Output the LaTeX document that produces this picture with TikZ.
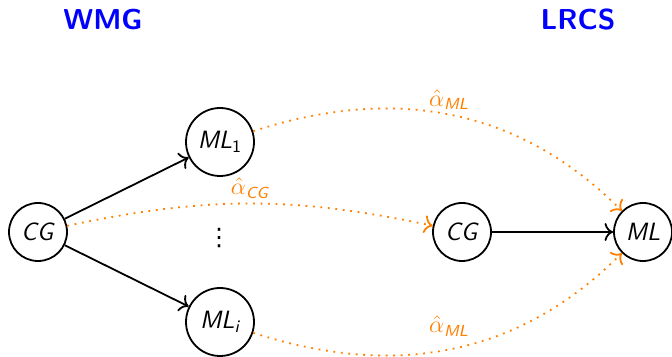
\documentclass[tikz,border=0pt]{standalone}
\usepackage{amsmath}
\usepackage{fontspec}
\usetikzlibrary{arrows.meta}
\renewcommand{\familydefault}{\sfdefault}
\newfontfamily\symfont{DejaVu Sans}
\newcommand{\sv}[1]{\textsf{\itshape #1}}
\definecolor{flow}{RGB}{255,128,0}
\definecolor{head}{RGB}{0,0,255}
\begin{document}
\begin{tikzpicture}[x=0.5pt,y=0.5pt,
  state/.style={circle,draw,line width=0.9pt,inner sep=1pt,minimum size=29pt,font=\fontsize{12.5}{14}\selectfont},
  bigstate/.style={state,minimum size=34pt},
  title/.style={text=head,font=\Large\bfseries\sffamily},
  link/.style={-{To[scale=1.2]},line width=0.9pt},
  est/.style={-{To[scale=1.2]},flow,line width=0.9pt,dash pattern=on 0.9pt off 2.85pt},
  lbl/.style={text=flow,font=\fontsize{12}{14}\selectfont,inner sep=2pt}]
\useasboundingbox (0,0) rectangle (672,357);

% column headings
\node[title] (wmg) at (103,337) {WMG};
\node[title] (lrcs) at (578,337) {LRCS};

% left model
\node[state] (cgl) at (38,125) {\sv{CG}};
\node[bigstate] (ml1) at (220,215) {$\sv{ML}_{\textsf{1}}$};
\node[bigstate] (mli) at (220,35) {$\sv{ML}_{\sv{i}}$};
\node[font=\symfont\fontsize{12}{14}\selectfont] (dots) at (219,119) {⋮};

% right model
\node[state] (cgr) at (462,125) {\sv{CG}};
\node[state] (mlr) at (643,125) {\sv{ML}};

% structural links
\draw[link] (cgl) -- (ml1);
\draw[link] (cgl) -- (mli);
\draw[link] (cgr) -- (mlr);

% estimated couplings
\draw[est] (cgl) to[bend left=12] node[lbl,above,pos=0.5] (acg) {$\hat{\alpha}_{\sv{CG}}$} (cgr);
\draw[est] (ml1) to[out=18,in=135] node[lbl,above,pos=0.495] (aml1) {$\hat{\alpha}_{\sv{ML}}$} (mlr);
\draw[est] (mli) to[out=-18,in=-135] node[lbl,above=4pt,pos=0.495] (amli) {$\hat{\alpha}_{\sv{ML}}$} (mlr);
\end{tikzpicture}
\end{document}
